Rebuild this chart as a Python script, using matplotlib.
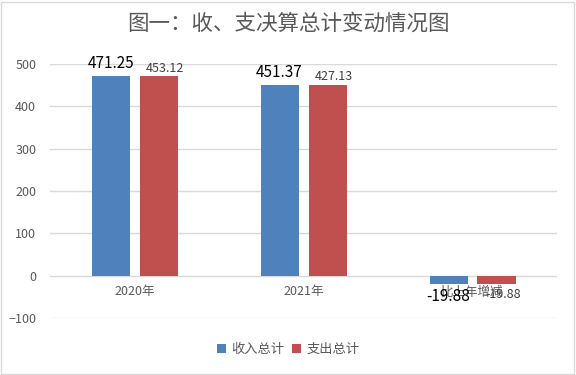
import matplotlib.pyplot as plt
import numpy as np
from matplotlib.patches import Rectangle

plt.rcParams['font.family'] = ['Noto Sans CJK SC', 'DejaVu Sans']

# data
categories = ['2020年', '2021年', '比上年增减']
income = [471.25, 451.37, -19.88]
# the red bars are drawn at the same height as the blue ones in the source
expend_bar = [471.25, 451.37, -19.88]
expend_label = ['453.12', '427.13', '-19.88']
income_label = ['471.25', '451.37', '-19.88']
yticks = [-100, 0, 100, 200, 300, 400, 500]

blue = '#4f81bd'
red = '#c0504d'
grey = '#595959'

fig = plt.figure(figsize=(5.76, 3.75), dpi=100)
ax = fig.add_axes([0.087, 0.152, 0.88, 0.677])

x = np.arange(len(categories))
w = 0.225
off = 0.142
ax.bar(x - off, income, w, color=blue, label='收入总计', zorder=3)
ax.bar(x + off, expend_bar, w, color=red, label='支出总计', zorder=3)

for i in range(len(categories)):
    up = income[i] >= 0
    ax.annotate(income_label[i], (x[i] - off, income[i]), xytext=(0, 3 if up else -3),
                textcoords='offset points', ha='center', va='bottom' if up else 'top',
                fontsize=11, color='black', zorder=5)
    ax.annotate(expend_label[i], (x[i] + off + 0.04, expend_bar[i]), xytext=(0, 1 if up else -3),
                textcoords='offset points', ha='center', va='bottom' if up else 'top',
                fontsize=9, color='#404040', zorder=5)
    ax.annotate(categories[i], (x[i], 0), xytext=(0, -7), textcoords='offset points',
                ha='center', va='top', fontsize=9, color=grey, zorder=4)

ax.set_xlim(-0.5, 2.5)
ax.set_ylim(-100, 500)
ax.set_yticks(yticks)
ax.set_xticks([])
ax.tick_params(axis='y', length=0, labelsize=9, labelcolor=grey, pad=10)
ax.grid(axis='y', color='#d9d9d9', linewidth=1, zorder=0)
for s in ax.spines.values():
    s.set_visible(False)

fig.suptitle('图一：收、支决算总计变动情况图', fontsize=15.5, color=grey, y=0.965)

fig.legend(loc='center', bbox_to_anchor=(0.5, 0.067), ncol=2, frameon=False,
           fontsize=9.5, handlelength=0.7, handleheight=0.7, handletextpad=0.4,
           columnspacing=0.6, labelcolor=grey)

fig.patches.append(Rectangle((0.002, 0.003), 0.995, 0.993, transform=fig.transFigure,
                             fill=False, edgecolor='#d9d9d9', linewidth=1))

fig.savefig('out.png', dpi=100)
